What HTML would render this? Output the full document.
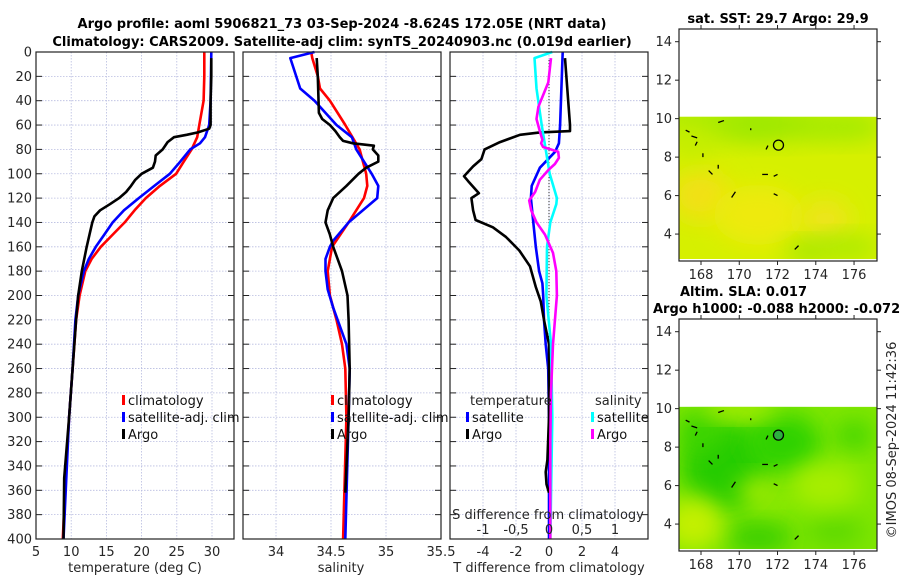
<!DOCTYPE html>
<html><head><meta charset="utf-8">
<style>
html,body{margin:0;padding:0;background:#fff;}
svg{display:block;font-family:"DejaVu Sans","Liberation Sans",sans-serif;}
</style></head>
<body>
<svg id="fig" width="900" height="580" viewBox="0 0 900 580" xmlns="http://www.w3.org/2000/svg">
<text x="342" y="28" font-size="13" font-weight="bold" text-anchor="middle">Argo profile: aoml 5906821_73 03-Sep-2024 -8.624S 172.05E (NRT data)</text>
<text x="342" y="46" font-size="13" font-weight="bold" text-anchor="middle">Climatology: CARS2009. Satellite-adj clim: synTS_20240903.nc (0.019d earlier)</text>
<g id="p1"></g>
<g id="p2"></g>
<g id="p3"></g>
<g id="m1"></g>
<g id="m2"></g>
<text x="778" y="23" font-size="13" font-weight="bold" text-anchor="middle">sat. SST: 29.7 Argo: 29.9</text>
<text x="680" y="296" font-size="13" font-weight="bold">Altim. SLA: 0.017</text>
<text x="653" y="313" font-size="13" font-weight="bold">Argo h1000: -0.088 h2000: -0.072</text>
<text transform="translate(896,440) rotate(-90)" font-size="13" fill="#262626" text-anchor="middle">©IMOS 08-Sep-2024 11:42:36</text>
</svg>
<script>
// ---------- data ----------
const climDepth=[0,20,40,60,70,80,90,100,110,120,130,140,150,160,170,180,200,220,260,300,350,400];
const climTemp=[28.9,28.9,28.8,28.2,27.9,27.1,26.0,24.9,22.6,20.6,19.0,17.6,15.9,14.2,12.9,12.0,11.2,10.7,10.2,9.7,9.2,8.8];
const satDepth=[0,40,60,70,75,80,90,100,110,120,130,140,150,160,170,180,200,220,260,300,400];
const satTemp=[29.9,29.8,29.6,29.0,28.3,26.9,25.5,24.0,21.8,19.6,17.5,15.9,14.7,13.5,12.5,11.8,11.0,10.6,10.2,9.7,8.9];
const argoTDepth=[5,20,40,60,63,66,68,70,74,80,85,90,95,100,105,110,115,120,125,130,135,140,150,160,180,200,220,260,300,350,400];
const argoTemp=[29.9,29.9,29.8,29.8,29.6,28.0,26.4,24.6,23.7,23.0,22.0,21.9,21.6,20.0,19.1,18.5,17.8,16.8,15.5,14.1,13.3,13.0,12.6,12.2,11.5,11.0,10.7,10.2,9.7,9.0,8.9];

const climSDepth=[0,5,20,30,40,60,80,100,110,120,140,160,180,200,220,240,260,300,400];
const climSal=[34.32,34.33,34.38,34.40,34.49,34.63,34.76,34.82,34.83,34.80,34.66,34.51,34.47,34.49,34.55,34.60,34.63,34.64,34.61];
const satSDepth=[0,5,30,40,60,70,80,100,110,120,140,155,160,170,180,195,210,240,260,300,400];
const satSal=[34.35,34.13,34.22,34.35,34.55,34.69,34.73,34.87,34.93,34.92,34.66,34.52,34.49,34.45,34.45,34.47,34.52,34.64,34.67,34.66,34.63];
const argoSDepth=[5,20,50,55,60,65,70,73,75,77,80,85,90,95,100,110,120,130,140,150,160,180,200,220,260,300,362];
const argoSal=[34.37,34.38,34.39,34.42,34.49,34.54,34.58,34.61,34.70,34.89,34.88,34.93,34.93,34.82,34.75,34.64,34.52,34.47,34.45,34.49,34.52,34.60,34.65,34.66,34.67,34.66,34.63];

const dTArgoDepth=[5,60,65,66,68,74,80,88,94,102,106,116,120,130,138,144,152,163,176,193,205,220,240,300,335,345,355,362];
const dTArgo=[0.97,1.27,1.27,-0.55,-1.76,-2.97,-3.9,-4.1,-4.6,-5.15,-4.9,-4.25,-4.7,-4.6,-4.45,-3.4,-2.6,-1.8,-1.15,-0.8,-0.5,-0.3,0,0,-0.1,-0.2,-0.15,0];
const dTSatDepth=[0,60,75,82,95,110,120,140,160,180,190,200,220,240,260,300,400];
const dTSat=[0.83,0.67,0.6,0.37,-0.55,-1.05,-1.1,-0.95,-0.8,-0.6,-0.4,-0.35,-0.3,-0.2,-0.05,0,0];
const dSSatDepth=[0,5,30,60,80,100,120,125,140,160,200,240,300,400];
const dSSat=[0.05,-0.22,-0.19,-0.11,-0.05,0.01,0.12,0.11,0.02,-0.03,-0.04,0.03,0.05,0.02];
const dSArgoDepth=[5,25,45,55,65,72,75,78,82,87,92,97,105,115,122,130,140,150,165,180,200,240,280,320,400];
const dSArgo=[0.03,-0.01,-0.16,-0.19,-0.14,-0.10,-0.12,-0.09,0.14,0.15,0.09,-0.01,-0.14,-0.21,-0.30,-0.27,-0.19,-0.06,0.06,0.11,0.12,0.06,0.03,0.02,0.02];

const depthTicks=[0,20,40,60,80,100,120,140,160,180,200,220,240,260,280,300,320,340,360,380,400];
const tempTicks=[5,10,15,20,25,30];
const salTicks=[34,34.5,35,35.5];
const salTickLabels=["34","34.5","35","35.5"];
const dTTicks=[-4,-2,0,2,4];
const dSTicks=[-1,-0.5,0,0.5,1];
const dSTickLabels=["-1","-0,5","0","0,5","1"];
const latTicks=[14,12,10,8,6,4];
const lonTicks=[168,170,172,174,176];
const argoLon=172.05, argoLat=-8.624;

// ---------- helpers ----------
const NS="http://www.w3.org/2000/svg";
function mk(parent,tag,attrs){const e=document.createElementNS(NS,tag);for(const k in attrs)e.setAttribute(k,attrs[k]);parent.appendChild(e);return e;}
const PT=52,PB=539;
const yD=d=>PT+(PB-PT)*d/400;

function panel(g,x0,x1,xmin,xmax,xticks,xlabels,showY){
  const sx=v=>x0+(x1-x0)*(v-xmin)/(xmax-xmin);
  depthTicks.forEach(d=>{
    const l=mk(g,'line',{x1:x0,x2:x1,y1:yD(d),y2:yD(d),stroke:'#b8bce0','stroke-width':0.8,'stroke-dasharray':'1.5,1.5'});
    
    const t1=mk(g,'line',{x1:x0,x2:x0+6,y1:yD(d),y2:yD(d),stroke:'#222','stroke-width':1});
    
    const t2=mk(g,'line',{x1:x1-6,x2:x1,y1:yD(d),y2:yD(d),stroke:'#222','stroke-width':1});
    
    if(showY){const t=mk(g,'text',{x:x0-4,y:yD(d)+4.5,'font-size':13,'text-anchor':'end',fill:'#262626'});t.textContent=d;
      }
  });
  xticks.forEach((v,i)=>{
    const x=sx(v);
    if(x>x0+0.5&&x<x1-0.5){const l=mk(g,'line',{x1:x,x2:x,y1:PT,y2:PB,stroke:'#b8bce0','stroke-width':0.8,'stroke-dasharray':'1.5,1.5'});
    }
    if(xlabels){const t=mk(g,'text',{x:x,y:556,'font-size':13,'text-anchor':'middle',fill:'#262626'});t.textContent=xlabels[i];
      }
  });
  return sx;
}
function frame(g,x0,x1){const r=mk(g,'rect',{x:x0,y:PT,width:x1-x0,height:PB-PT,fill:'none',stroke:'#222','stroke-width':1.2});
  }
function series(g,xs,ds,sx,color,name,w){
  const pts=xs.map((v,i)=>sx(v).toFixed(1)+','+yD(ds[i]).toFixed(1)).join(' ');
  const p=mk(g,'polyline',{points:pts,fill:'none',stroke:color,'stroke-width':w||2.6,'stroke-linejoin':'round'});
  
}
function legendEntry(g,x,y,color,label,name){
  const r=mk(g,'rect',{x:x,y:y-10,width:3,height:10,fill:color});
  
  const t=mk(g,'text',{x:x+6,y:y,'font-size':13,fill:'#111'});t.textContent=label;
  
}
function label(g,x,y,txt,name,anchor){const t=mk(g,'text',{x:x,y:y,'font-size':13,'text-anchor':anchor||'middle',fill:'#262626'});t.textContent=txt;
  }

// ---------- panel 1 temperature ----------
const g1=document.getElementById('p1');
const sxT=panel(g1,36,234,5,33.125,tempTicks,tempTicks.map(String),true);
series(g1,climTemp,climDepth,sxT,'#ff0000','temp-climatology-line');
series(g1,satTemp,satDepth,sxT,'#0000ff','temp-satellite-line');
series(g1,argoTemp,argoTDepth,sxT,'#000','temp-argo-line');
frame(g1,36,234);
legendEntry(g1,122,405,'#ff0000','climatology','legend-climatology');
legendEntry(g1,122,422,'#0000ff','satellite-adj. clim','legend-satellite-adj');
legendEntry(g1,122,439,'#000','Argo','legend-argo');
label(g1,135,572,'temperature (deg C)','temperature-axis-title');

// ---------- panel 2 salinity ----------
const g2=document.getElementById('p2');
const sxS=panel(g2,243,441,33.7,35.5,salTicks,salTickLabels,false);
series(g2,climSal,climSDepth,sxS,'#ff0000','sal-climatology-line');
series(g2,satSal,satSDepth,sxS,'#0000ff','sal-satellite-line');
series(g2,argoSal,argoSDepth,sxS,'#000','sal-argo-line');
frame(g2,243,441);
legendEntry(g2,331,405,'#ff0000','climatology','legend-climatology');
legendEntry(g2,331,422,'#0000ff','satellite-adj. clim','legend-satellite-adj');
legendEntry(g2,331,439,'#000','Argo','legend-argo');
label(g2,341,572,'salinity','salinity-axis-title');

// ---------- panel 3 differences ----------
const g3=document.getElementById('p3');
const sxdT=panel(g3,450,648,-6,6,dTTicks,dTTicks.map(String),false);
const sxdS=v=>450+198*(v+1.5)/3;
const zl=mk(g3,'line',{x1:sxdT(0),x2:sxdT(0),y1:PT+8,y2:PB,stroke:'#333','stroke-width':1,'stroke-dasharray':'1,2'});

series(g3,dTSat,dTSatDepth,sxdT,'#0000ff','dT-satellite-line');
series(g3,dTArgo,dTArgoDepth,sxdT,'#000','dT-argo-line');
series(g3,dSSat,dSSatDepth,sxdS,'#00ffff','dS-satellite-line');
series(g3,dSArgo,dSArgoDepth,sxdS,'#ff00ff','dS-argo-line');
frame(g3,450,648);
label(g3,470,405,'temperature','legend-temperature-heading','start');
legendEntry(g3,466,422,'#0000ff','satellite','legend-t-satellite');
legendEntry(g3,466,439,'#000','Argo','legend-t-argo');
label(g3,595,405,'salinity','legend-salinity-heading','start');
legendEntry(g3,591,422,'#00ffff','satellite','legend-s-satellite');
legendEntry(g3,591,439,'#ff00ff','Argo','legend-s-argo');
label(g3,548,519,'S difference from climatology','s-diff-axis-title');
dSTicks.forEach((v,i)=>label(g3,sxdS(v),534,dSTickLabels[i],'s-diff-tick-label'));
label(g3,549,572,'T difference from climatology','t-diff-axis-title');

// ---------- maps ----------
function map(g,top,kind){
  const x0=679,x1=877,bottom=top+232;
  const sx=lon=>x0+(lon-166.85)*(x1-x0)/(177.2-166.85);
  const sy=lat=>top+(14.66-lat)*(bottom-top)/(14.66-2.6);
  const defs=mk(g,'defs',{});
  const fid='blur'+kind;
  const f=mk(defs,'filter',{id:fid,x:'-50%',y:'-50%',width:'200%',height:'200%'});
  mk(f,'feGaussianBlur',{stdDeviation:12});
  const cp=mk(defs,'clipPath',{id:'cp'+kind});
  mk(cp,'rect',{x:x0,y:sy(10.1),width:x1-x0,height:sy(2.7)-sy(10.1)});
  const field=mk(g,'g',{'clip-path':'url(#cp'+kind+')'});
  
  let blobs;
  if(kind==='sst'){
    mk(field,'rect',{x:x0,y:sy(10.1),width:x1-x0,height:sy(2.7)-sy(10.1),fill:'#d6f000'});
    blobs=[[169,9.8,60,18,'#a6ea00'],[172,9.7,50,16,'#9ce800'],[175.5,9.6,40,14,'#a0ea00'],[168,6,30,25,'#f2e018'],[171,5,45,30,'#eeea10'],[174.5,4.8,25,20,'#efe41a'],[175.5,3.3,35,12,'#a8ea00'],[173.5,3.1,20,10,'#9ee600'],[167.5,8.8,20,18,'#c4ee00']];
  } else {
    mk(field,'rect',{x:x0,y:sy(10.1),width:x1-x0,height:sy(2.7)-sy(10.1),fill:'#7fe600'});
    blobs=[[169.3,7,45,45,'#28cc00'],[172.3,8.2,38,30,'#2ed200'],[168,8.8,22,22,'#3ad400'],[171,3.3,35,14,'#30cc00'],[176,8.6,18,14,'#3cd400'],[175,3.6,30,14,'#5ad800'],[167.6,4,30,26,'#c4f000'],[174.5,6,35,22,'#a8ee00'],[171,5.7,20,14,'#aaee00'],[170,9.9,40,8,'#b8f000']];
  }
  blobs.forEach(b=>{const e=mk(field,'ellipse',{cx:sx(b[0]),cy:sy(b[1]),rx:b[2],ry:b[3],fill:b[4],filter:'url(#'+fid+')'});
    });
  const coasts=[[168.9,9.8,169.2,9.9],[167.2,9.4,167.4,9.3],[167.5,9.1,167.8,9.0],[167.7,8.6,167.8,8.8],[168.4,7.3,168.6,7.1],[168.9,7.6,168.9,7.4],[171.2,7.1,171.5,7.1],[171.8,7.0,172.0,7.1],[169.6,5.9,169.8,6.2],[171.8,6.1,172.0,6.0],[172.9,3.2,173.1,3.4],[170.6,9.4,170.6,9.5],[171.4,8.4,171.5,8.6],[168.1,8.2,168.1,8.0]];
  coasts.forEach(c=>{const l=mk(g,'line',{x1:sx(c[0]),y1:sy(c[1]),x2:sx(c[2]),y2:sy(c[3]),stroke:'#000','stroke-width':1.3});
    });
  const c=mk(g,'circle',{cx:sx(argoLon),cy:sy(-argoLat),r:5,fill:kind==='sla'?'#2db040':'none',stroke:'#000','stroke-width':1.3});
  
  const r=mk(g,'rect',{x:x0,y:top,width:x1-x0,height:bottom-top,fill:'none',stroke:'#222','stroke-width':1.2});
  
  latTicks.forEach(v=>{
    const t=mk(g,'line',{x1:x0-4,x2:x0,y1:sy(v),y2:sy(v),stroke:'#222'});
    
    const t2=mk(g,'line',{x1:x1,x2:x1+4,y1:sy(v),y2:sy(v),stroke:'#222'});
    
    label(g,x0-7,sy(v)+4.5,String(v),'lat-tick-label','end');
  });
  lonTicks.forEach(v=>{
    const t=mk(g,'line',{x1:sx(v),x2:sx(v),y1:bottom,y2:bottom+4,stroke:'#222'});
    
    const t2=mk(g,'line',{x1:sx(v),x2:sx(v),y1:top-4,y2:top,stroke:'#222'});
    
    label(g,sx(v),bottom+18,String(v),'lon-tick-label');
  });
}
map(document.getElementById('m1'),29,'sst');
map(document.getElementById('m2'),319,'sla');
</script>
</body></html>
